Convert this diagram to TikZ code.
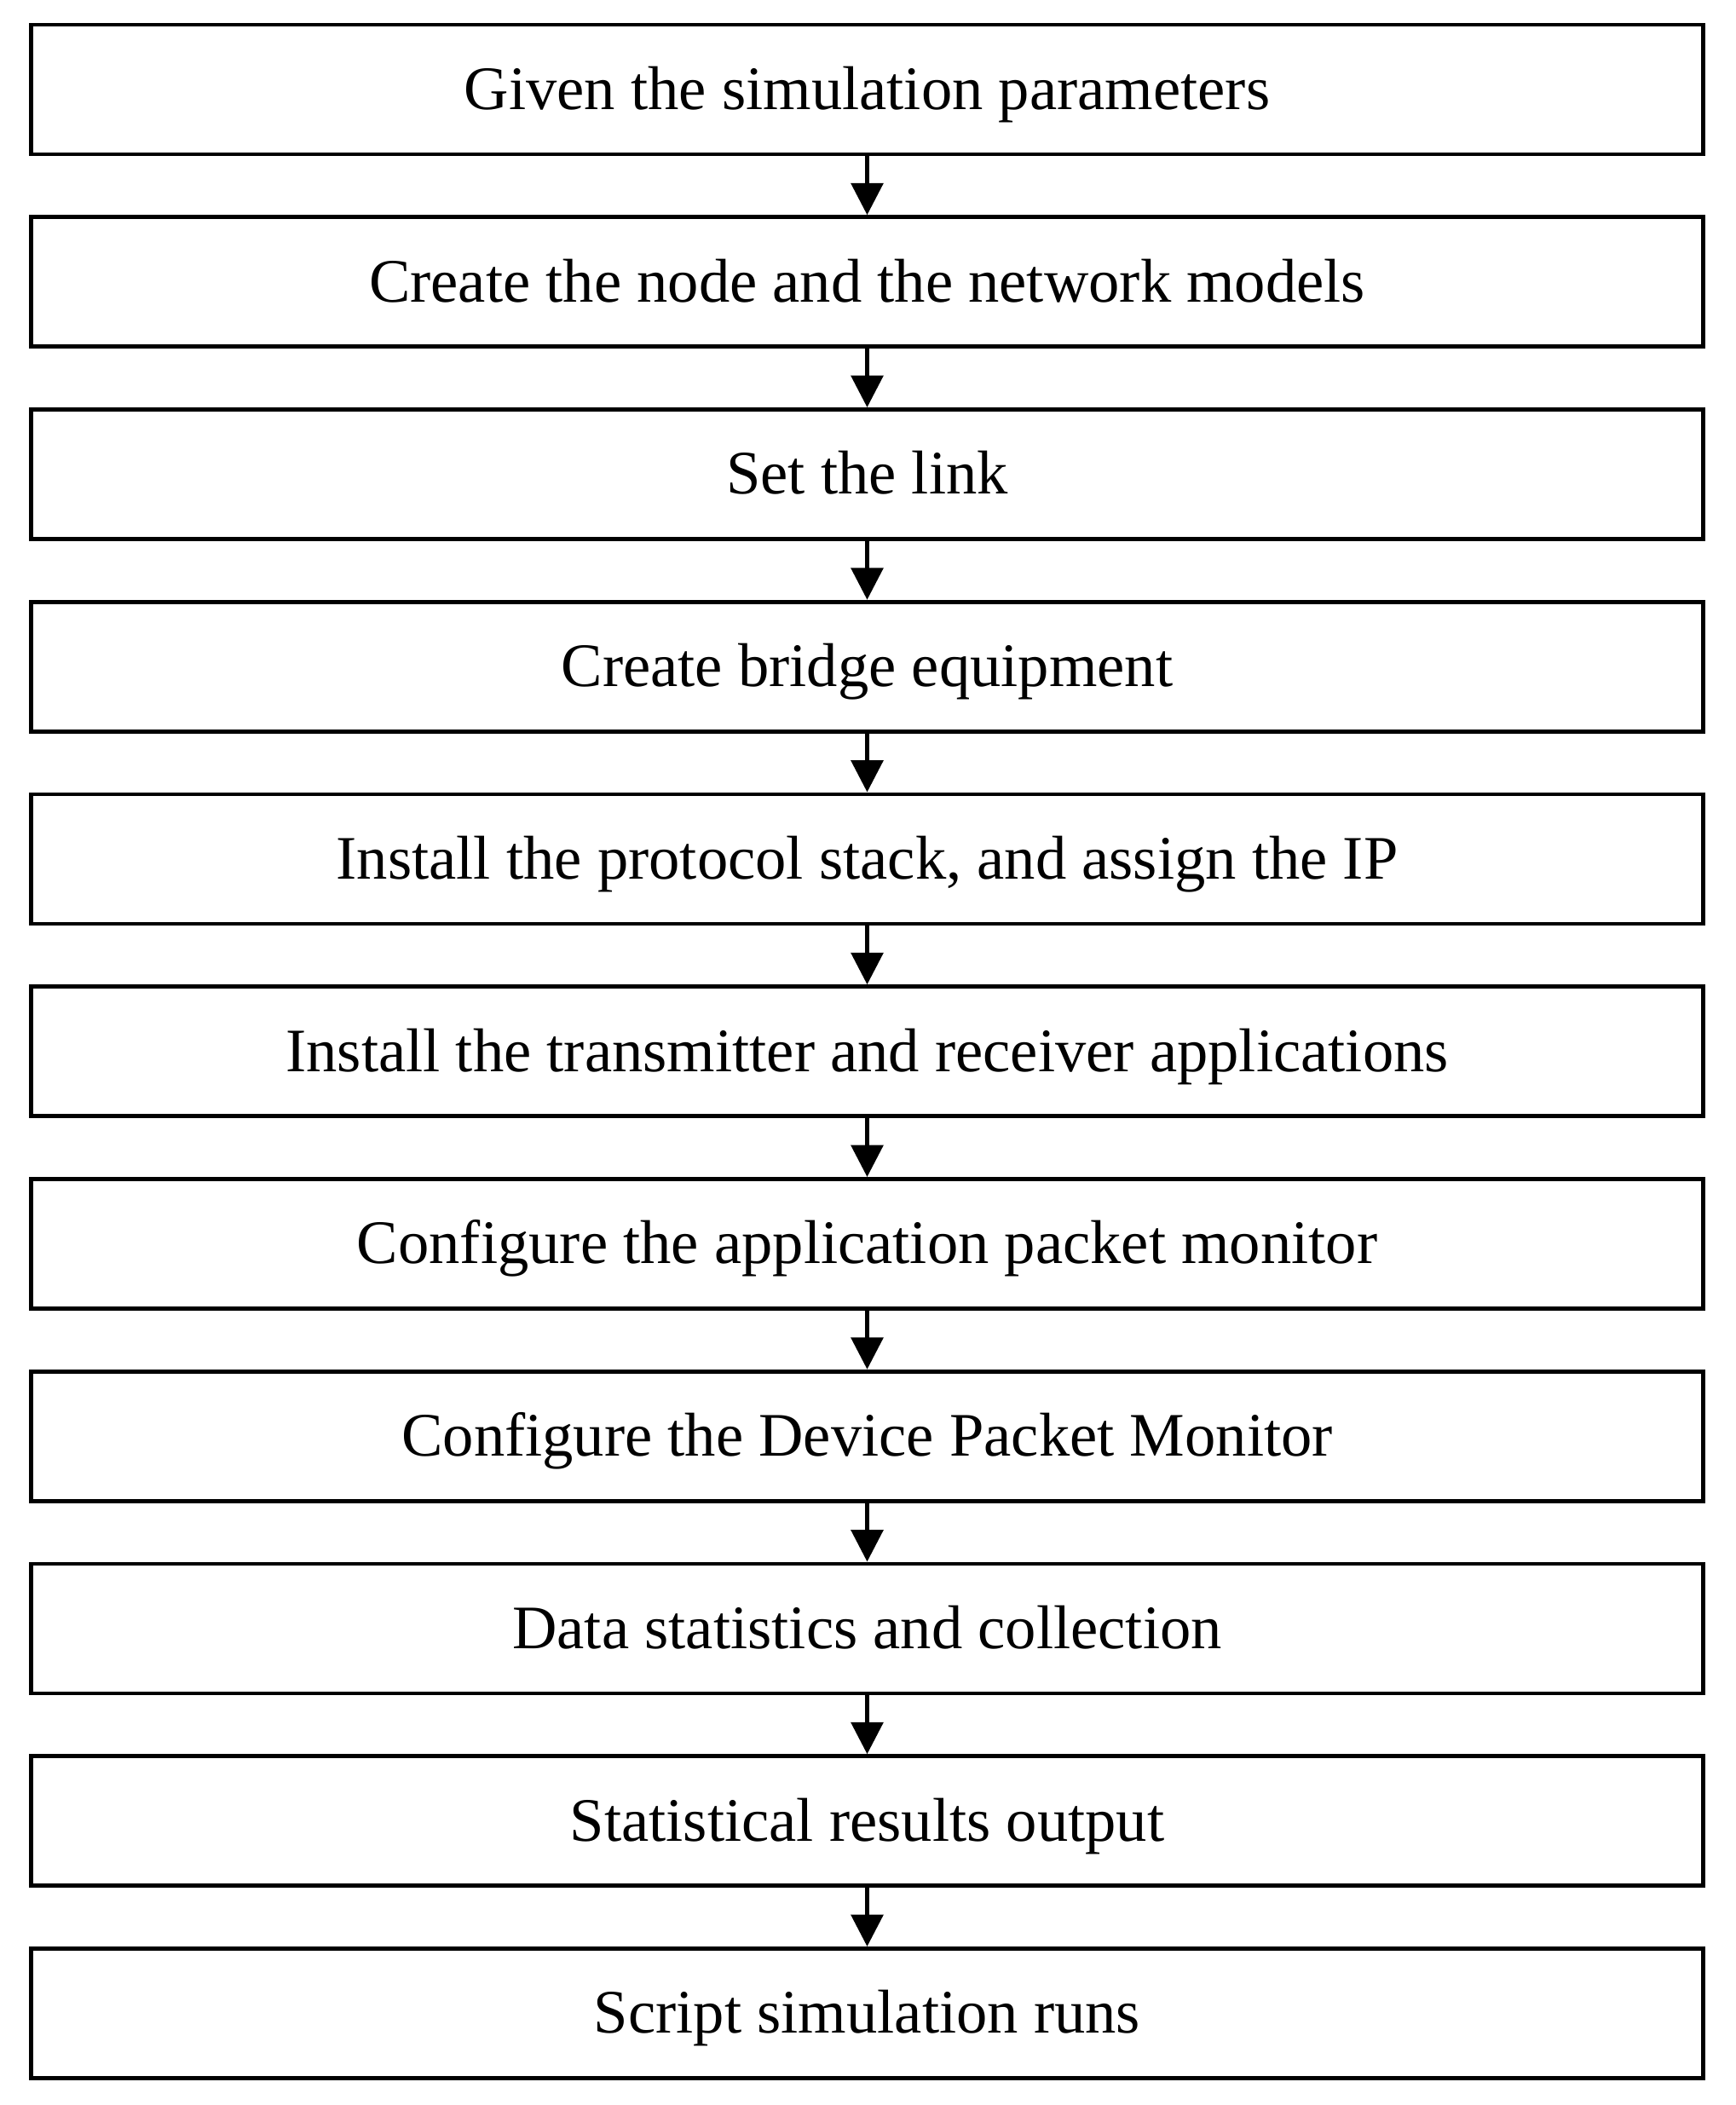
\documentclass[tikz,border=0pt]{standalone}
\usepackage{fontspec}
\setmainfont{Liberation Serif}
\usetikzlibrary{arrows.meta}
\begin{document}
\begin{tikzpicture}[x=1cm,y=1cm,
  box/.style={draw,line width=2.8pt,minimum width=39.24cm,minimum height=3.04cm,inner sep=0pt,text height=1.2cm,text depth=0.26cm,font=\fontsize{41.3}{48}\selectfont},
  arr/.style={line width=2.8pt,-{Triangle[length=0.75cm,width=0.75cm]}}]
\useasboundingbox (0,0) rectangle (40.74,49.4);
\foreach \t [count=\i] in {Given the simulation parameters,Create the node and the network models,Set the link,Create bridge equipment,{Install the protocol stack, and assign the IP},Install the transmitter and receiver applications,Configure the application packet monitor,Configure the Device Packet Monitor,Data statistics and collection,Statistical results output,Script simulation runs}{
  \node[box] (b\i) at (20.35,{47.3-4.515*(\i-1)}) {\t};
}
\foreach \i [evaluate=\i as \j using int(\i+1)] in {1,...,10}{
  \draw[arr] (b\i.south) -- (b\j.north);
}
\end{tikzpicture}
\end{document}
